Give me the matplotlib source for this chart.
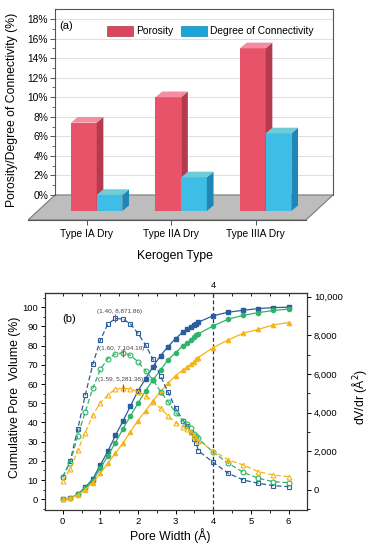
import numpy as np
import matplotlib
matplotlib.use('Agg')
import matplotlib.pyplot as plt
from matplotlib.patches import Polygon, Patch
from matplotlib.ticker import FuncFormatter, MultipleLocator, FixedLocator

plt.rcParams['font.family'] = ['Liberation Sans', 'DejaVu Sans']

# ---------------- data: panel (a) ----------------
kerogen_types = ['Type IA Dry', 'Type IIA Dry', 'Type IIIA Dry']
porosity = [7.4, 10.0, 15.0]
connectivity = [0.0, 1.8, 6.3]
pct_ticks = [0, 2, 4, 6, 8, 10, 12, 14, 16, 18]

# ---------------- data: panel (b) ----------------
pore_width = [0, 0.2, 0.4, 0.6, 0.8, 1.0, 1.2, 1.4, 1.6, 1.8, 2.0, 2.2, 2.4, 2.6,
              2.8, 3.0, 3.2, 3.3, 3.4, 3.5, 3.55, 3.6, 4.0, 4.4, 4.8, 5.2, 5.6, 6.0]
cum_blue = [0, 0.5, 2.6, 6.2, 10.6, 17.9, 25.0, 33.2, 40.6, 48.6, 56.4, 62.7, 69.1, 74.8,
            79.5, 83.7, 87.2, 88.4, 89.8, 90.8, 91.5, 92.2, 95.6, 97.4, 98.4, 99.3, 99.8, 100.0]
cum_green = [0, 0.5, 2.6, 5.7, 9.7, 16.1, 22.7, 29.5, 36.6, 43.4, 50.0, 56.4, 62.2, 67.4,
             72.6, 76.4, 80.0, 81.3, 83.0, 84.7, 85.6, 86.1, 90.3, 93.8, 95.8, 97.2, 98.3, 99.0]
cum_yellow = [0, 0.5, 2.3, 4.9, 8.7, 13.5, 18.8, 24.0, 29.2, 35.2, 41.0, 46.0, 51.2, 56.1,
              60.4, 64.4, 67.4, 68.8, 70.3, 71.7, 72.9, 73.8, 79.0, 83.0, 86.5, 88.5, 90.8, 92.0]
dvdr_blue = [655, 1500, 3155, 4914, 6500, 7759, 8586, 8872, 8845, 8586, 8103, 7500, 6759, 5897,
             5052, 4224, 3586, 3300, 3000, 2650, 2450, 2034, 1430, 862, 517, 345, 224, 172]
dvdr_green = [690, 1414, 2810, 4052, 5259, 6241, 6793, 7034, 7104, 6966, 6638, 6172, 5690, 5086,
              4569, 4000, 3569, 3414, 3190, 2897, 2793, 2672, 1948, 1379, 914, 603, 431, 380]
dvdr_yellow = [483, 1069, 2052, 2966, 3879, 4517, 4914, 5224, 5260, 5224, 5086, 4879, 4569, 4224,
               3828, 3483, 3276, 3138, 3017, 2793, 2672, 2552, 2034, 1552, 1293, 948, 776, 690]
peak_x = [1.40, 1.60, 1.59]
peak_y = [8871.86, 7104.19, 5281.36]
peak_labels = ['(1.40, 8,871.86)', '(1.60, 7,104.19)', '(1.59, 5,281.36)']

W, H = 369, 550
fig = plt.figure(figsize=(W / 100, H / 100), dpi=100)

# =============== panel (a) ===============
axA = fig.add_axes([28 / W, 1 - 220 / H, 305 / W, 211 / H])
ylo, yhi = -2.56, 19.02
xlo, xhi = -0.695, 2.915
axA.set_xlim(xlo, xhi)
axA.set_ylim(ylo, yhi)
floor_dx = 0.32
back_left = xlo + floor_dx
front_right = xhi - floor_dx

# back-wall gridlines
for v in pct_ticks[1:]:
    axA.plot([back_left, xhi], [v, v], color='#DEDEDE', lw=0.7, zorder=0)

# floor
floor = Polygon([(xlo, ylo), (front_right, ylo), (xhi, 0), (back_left, 0)],
                closed=True, fc='#BDBDBD', ec='#7A7A7A', lw=0.8, zorder=1)
axA.add_patch(floor)

bar_base = -1.64
bar_w = 0.304
bar_dx, bar_dy = 0.079, 0.58
off_por = -0.186
off_con = off_por + bar_w

def bar3d(ax, x0, val, front, top, side, z):
    x1 = x0 + bar_w
    ax.add_patch(Polygon([(x0, bar_base), (x1, bar_base), (x1, val), (x0, val)],
                         closed=True, fc=front, ec='none', zorder=z))
    ax.add_patch(Polygon([(x1, bar_base), (x1 + bar_dx, bar_base + bar_dy),
                          (x1 + bar_dx, val + bar_dy), (x1, val)],
                         closed=True, fc=side, ec='none', zorder=z))
    ax.add_patch(Polygon([(x0, val), (x1, val), (x1 + bar_dx, val + bar_dy),
                          (x0 + bar_dx, val + bar_dy)],
                         closed=True, fc=top, ec='none', zorder=z))

por_cols = ('#E9536A', '#F38DA2', '#B43A4D')
con_cols = ('#3EBDE6', '#6FCBD8', '#1E87B5')
for i in range(len(kerogen_types)):
    bar3d(axA, i + off_por, porosity[i], *por_cols, z=2 + i)
    bar3d(axA, i + off_con, connectivity[i], *con_cols, z=2.5 + i)

# spines
for s in ['left', 'right', 'top', 'bottom']:
    axA.spines[s].set_color('#555555')
    axA.spines[s].set_linewidth(0.8)
axA.spines['left'].set_position(('data', back_left))
axA.spines['left'].set_bounds(0, yhi)
axA.spines['right'].set_bounds(0, yhi)
axA.spines['top'].set_bounds(back_left, xhi)
axA.spines['bottom'].set_bounds(xlo, front_right)

axA.set_yticks(pct_ticks)
axA.set_yticklabels([f'{v}%' for v in pct_ticks])
axA.yaxis.set_minor_locator(FixedLocator([v + 1 for v in pct_ticks[:-1]]))
axA.tick_params(axis='y', which='major', length=3.5, width=0.7, labelsize=7.4, pad=1.5, color='#555555')
axA.tick_params(axis='y', which='minor', length=2, width=0.6, color='#555555')
axA.tick_params(axis='y', which='both', right=False)
axA.set_xticks(range(len(kerogen_types)))
axA.set_xticklabels(kerogen_types)
axA.tick_params(axis='x', length=3.5, width=0.7, labelsize=7.4, pad=3, color='#555555')

axA.set_ylabel('Porosity/Degree of Connectivity (%)', fontsize=8.8)
axA.yaxis.set_label_coords(-0.033, 0.52)
axA.set_xlabel('Kerogen Type', fontsize=8.8)
axA.xaxis.set_label_coords(0.482, -0.142)

axA.text(back_left + 0.05, 17.3, '(a)', fontsize=8, va='center', ha='left', zorder=10)

handles = [Patch(fc='#D9475C', ec='#B03A4C', lw=0.5), Patch(fc='#1CA5D8', ec='#1885B0', lw=0.5)]
leg = axA.legend(handles, ['Porosity', 'Degree of Connectivity'], ncol=2, frameon=False,
                 loc='upper left', bbox_to_anchor=(0.243, 0.945), borderpad=0,
                 fontsize=7.4, handlelength=2.5, handleheight=1.1, columnspacing=0.7,
                 handletextpad=0.35)

# =============== panel (b) ===============
axB = fig.add_axes([45 / W, 40 / H, 262 / W, 217 / H])
axR = axB.twinx()

c_blue, c_green, c_yellow = '#2B5E9C', '#2FB46A', '#F4B41A'
ms = 3.0
dash = (0, (4, 2.2))

for y, c, m in [(cum_blue, c_blue, 's'), (cum_green, c_green, 'o'), (cum_yellow, c_yellow, '^')]:
    axB.plot(pore_width, y, color=c, lw=0.9, marker=m, ms=ms, mfc=c, mec=c, zorder=3)

for y, c, m in [(dvdr_blue, c_blue, 's'), (dvdr_green, c_green, 'o'), (dvdr_yellow, c_yellow, '^')]:
    axR.plot(pore_width, y, color=c, lw=0.9, ls=dash, marker=m, ms=ms + 0.5, mfc='none',
             mec=c, mew=0.8, zorder=3)

axR.plot(peak_x, peak_y, ls='none', marker='|', ms=6, mew=0.9, color='#E8333A', zorder=5)
label_pos = [(1.50, 9208), (1.56, 7331), (1.55, 5690)]
for (tx, ty), lab in zip(label_pos, peak_labels):
    axR.text(tx, ty, lab, fontsize=4.6, color='#444444', ha='center', va='center', zorder=6)

axB.axvline(4, color='#333333', lw=0.9, ls=(0, (3, 2)), zorder=2)

axB.set_xlim(-0.47, 6.49)
axB.set_ylim(-5.6, 107.4)
axR.set_ylim(-1035, 10190)

axB.set_xticks([0, 1, 2, 3, 4, 5, 6])
axB.xaxis.set_minor_locator(MultipleLocator(0.5))
axB.set_yticks(range(0, 101, 10))
axB.yaxis.set_minor_locator(MultipleLocator(5))
axR.set_yticks(range(0, 10001, 2000))
axR.yaxis.set_minor_locator(MultipleLocator(1000))
axR.yaxis.set_major_formatter(FuncFormatter(lambda v, p: f'{int(v):,}'))

for ax in (axB, axR):
    for s in ax.spines.values():
        s.set_linewidth(0.8)
        s.set_color('#333333')
axB.tick_params(axis='both', which='major', length=3, width=0.7, labelsize=6.8, pad=2, direction='out')
axB.tick_params(axis='both', which='minor', length=1.8, width=0.6, direction='out')
axR.tick_params(axis='y', which='major', length=3, width=0.7, labelsize=6.8, pad=2, direction='out')
axR.tick_params(axis='y', which='minor', length=1.8, width=0.6, direction='out')

sec = axB.secondary_xaxis('top')
sec.set_xticks(np.arange(0, 6.01, 0.5))
sec.set_xticklabels(['4' if abs(t - 4) < 1e-9 else '' for t in np.arange(0, 6.01, 0.5)])
sec.tick_params(direction='in', length=2.5, width=0.6, labelsize=6.8, pad=2)
sec.spines['top'].set_linewidth(0.8)

axB.set_ylabel('Cumulative Pore  Volume (%)', fontsize=8.8)
axB.yaxis.set_label_coords(-0.092, 0.52)
axB.set_xlabel('Pore Width (Å)', fontsize=8.8)
axB.xaxis.set_label_coords(0.477, -0.083)
axR.set_ylabel('dV/dr (Å$^2$)', fontsize=8.8)
axR.yaxis.set_label_coords(1.164, 0.52)

axB.text(0.0, 94, '(b)', fontsize=8, ha='left', va='center')

fig.savefig('out.png', dpi=100)
